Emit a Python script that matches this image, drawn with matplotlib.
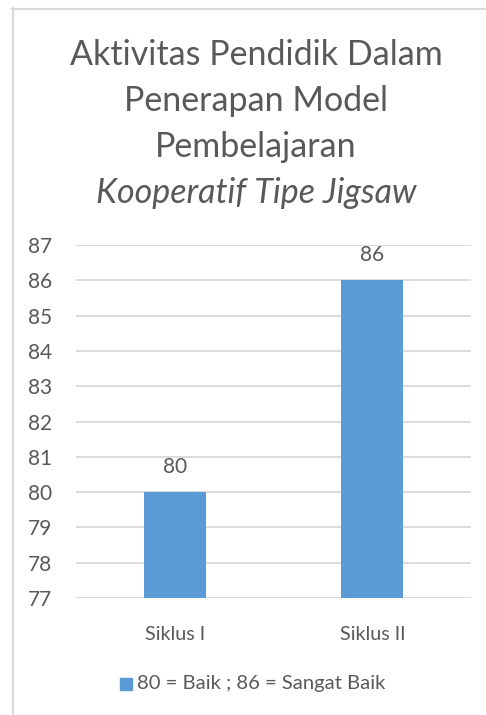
import matplotlib
matplotlib.use("Agg")
import matplotlib.pyplot as plt
from matplotlib.lines import Line2D
from matplotlib.patches import Rectangle

# data
categories = ["Siklus I", "Siklus II"]
values = [80, 86]
y_ticks = [77, 78, 79, 80, 81, 82, 83, 84, 85, 86, 87]
title_lines = ["Aktivitas Pendidik Dalam", "Penerapan Model", "Pembelajaran"]
title_italic = "Kooperatif Tipe Jigsaw"
legend_label = "80 = Baik ; 86 = Sangat Baik"

W, H = 486, 715
bar_color = "#5B9BD5"
text_color = "#595959"
grid_color = "#D9D9D9"
plt.rcParams["font.family"] = ["Lato", "DejaVu Sans"]

fig = plt.figure(figsize=(W / 100, H / 100), dpi=100)
fig.patch.set_facecolor("white")

def fx(px):
    return px / W

def fy(py):
    return 1 - py / H

# outer chart frame (left and top edges visible)
fig.add_artist(Line2D([fx(12.5), fx(12.5)], [fy(8), 0], color=grid_color, lw=1.5))
fig.add_artist(Line2D([fx(12), 1], [fy(8.5), fy(8.5)], color=grid_color, lw=1.5))

# title
for i, line in enumerate(title_lines):
    fig.text(fx(256), fy(65 + 46 * i), line, ha="center", va="baseline",
             fontsize=24.5, color=text_color)
fig.text(fx(256), fy(203), title_italic, ha="center", va="baseline",
         fontsize=24.5, color=text_color, style="italic")

ax = fig.add_axes([fx(76), fy(598), fx(471) - fx(76), fy(245) - fy(598)])
x = range(len(categories))
bars = ax.bar(x, values, width=0.314, color=bar_color, zorder=3)
ax.set_ylim(77, 87)
ax.set_xlim(-0.5, 1.5)
ax.set_yticks(y_ticks)
ax.set_xticks(list(x))
ax.set_xticklabels(categories)
ax.yaxis.grid(True, color=grid_color, lw=1.3, zorder=0)
ax.set_axisbelow(True)
for s in ax.spines.values():
    s.set_visible(False)
ax.tick_params(length=0, labelcolor=text_color)
ax.tick_params(axis="y", pad=17, labelsize=15)
ax.tick_params(axis="x", pad=20, labelsize=14.2)

for b, v in zip(bars, values):
    ax.annotate(str(v), (b.get_x() + b.get_width() / 2, v), xytext=(0, 18),
                textcoords="offset points", ha="center", va="center",
                fontsize=15, color=text_color)

# legend
fig.add_artist(Rectangle((fx(120), fy(690)), fx(132) - fx(120), fy(678) - fy(690),
                         transform=fig.transFigure, color=bar_color))
fig.text(fx(137), fy(684), legend_label, ha="left", va="center",
         fontsize=14.6, color=text_color)

fig.savefig("out.png", dpi=100)
